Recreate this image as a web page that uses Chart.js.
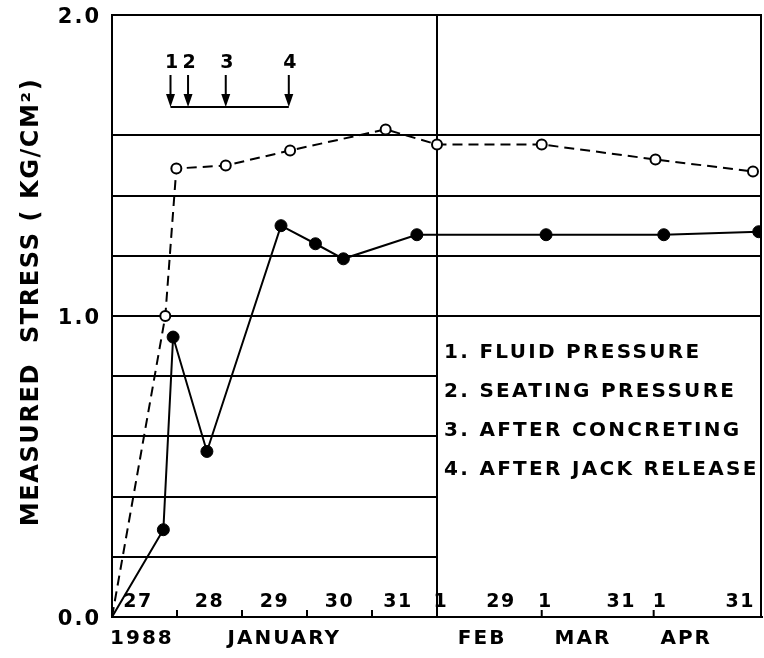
<!DOCTYPE html>
<html>
<head>
<meta charset="utf-8">
<title>Measured stress</title>
<script src="https://cdn.jsdelivr.net/npm/chart.js@4.4.1/dist/chart.umd.min.js"></script>
<style>
  html, body { margin: 0; padding: 0; background: #fff; }
  canvas { display: block; }
</style>
</head>
<body>
<canvas id="stressChart" width="764" height="658"></canvas>
<script>
// Time is counted in days from the start of 27 January 1988
const openDays   = [0, 0.82, 0.99, 1.75, 2.74, 4.21, 5.0, 34, 65.5, 92.5];
const openStress = [0, 1.0, 1.49, 1.50, 1.55, 1.62, 1.57, 1.57, 1.52, 1.48];

const solidDays   = [0, 0.79, 0.94, 1.46, 2.60, 3.13, 3.56, 4.69, 35.2, 67.8, 94.1];
const solidStress = [0, 0.29, 0.93, 0.55, 1.30, 1.24, 1.19, 1.27, 1.27, 1.27, 1.28];

// Construction stages marked by arrows
const eventDays   = [0.90, 1.17, 1.75, 2.72];
const eventLabels = ['1', '2', '3', '4'];
const eventNotes  = ['1. FLUID PRESSURE', '2. SEATING PRESSURE', '3. AFTER CONCRETING', '4. AFTER JACK RELEASE'];

// Day numbers written along the inside of the time axis
const dayLabels    = ['27', '28', '29', '30', '31', '1', '29', '1', '31', '1', '31'];
const dayLabelDays = [0.4, 1.5, 2.5, 3.5, 4.4, 6.1, 22.7, 35, 56, 66.8, 89];
const dayTickDays  = [1, 2, 3, 4, 34, 65];

// Year / month captions under the axis
const monthLabels    = ['1988', 'JANUARY', 'FEB', 'MAR', 'APR'];
const monthLabelDays = [0.46, 2.65, 17.5, 45.4, 74];

// Stress grid levels (kg/cm2) and the ones that get a number
const stressGrid  = [0, 0.2, 0.4, 0.6, 0.8, 1.0, 1.2, 1.4, 1.6, 2.0];
const stressTicks = [0, 1, 2];

const FONT = '"DejaVu Sans", sans-serif';

// January is drawn one unit per day, Feb-Apr squeezed to 18 days per unit
const JAN_DAYS = 5;
const LATER_DAYS_PER_UNIT = 18;
const END_DAY = 95;
function axisPos(day) {
    return day <= JAN_DAYS ? day : JAN_DAYS + (day - JAN_DAYS) / LATER_DAYS_PER_UNIT;
}

const annotations = {
    id: 'annotations',
    beforeDraw(chart) {
        chart.ctx.letterSpacing = '2px';
    },
    beforeDatasetsDraw(chart) {
        const { ctx, chartArea: a, scales: { x, y } } = chart;
        const split = x.getPixelForValue(axisPos(JAN_DAYS));
        const oneY = y.getPixelForValue(1);
        ctx.save();

        // no grid in the lower right panel
        ctx.fillStyle = '#fff';
        ctx.fillRect(split + 1, oneY + 1.5, a.right - split - 2.5, a.bottom - oneY - 2.5);

        // panel divider, right frame and small day ticks
        ctx.strokeStyle = '#000';
        ctx.lineWidth = 2;
        ctx.beginPath();
        ctx.moveTo(split, a.top);
        ctx.lineTo(split, a.bottom);
        ctx.moveTo(a.right - 1, a.top);
        ctx.lineTo(a.right - 1, a.bottom);
        dayTickDays.forEach(d => {
            const px = x.getPixelForValue(axisPos(d));
            ctx.moveTo(px, a.bottom);
            ctx.lineTo(px, a.bottom - 7);
        });
        ctx.stroke();

        ctx.fillStyle = '#000';
        ctx.textAlign = 'center';
        ctx.textBaseline = 'middle';
        ctx.letterSpacing = '1.5px';
        ctx.font = `bold 19px ${FONT}`;
        dayLabels.forEach((t, i) => {
            ctx.fillText(t, x.getPixelForValue(axisPos(dayLabelDays[i])), a.bottom - 15);
        });

        // stage arrows hanging from a common bar
        const labelY = a.top + 48;
        const topY = a.top + 60;
        const barY = a.top + 92;
        ctx.letterSpacing = '0px';
        ctx.font = `bold 19px ${FONT}`;
        const xs = eventDays.map(d => x.getPixelForValue(axisPos(d)));
        ctx.beginPath();
        ctx.moveTo(xs[0], barY);
        ctx.lineTo(xs[xs.length - 1], barY);
        xs.forEach(px => {
            ctx.moveTo(px, topY);
            ctx.lineTo(px, barY - 8);
        });
        ctx.stroke();
        xs.forEach((px, i) => {
            ctx.fillText(eventLabels[i], px + 1, labelY);
            ctx.beginPath();
            ctx.moveTo(px - 4.5, barY - 13);
            ctx.lineTo(px + 4.5, barY - 13);
            ctx.lineTo(px, barY);
            ctx.closePath();
            ctx.fill();
        });

        // stage notes
        ctx.textAlign = 'left';
        ctx.font = `bold 20px ${FONT}`;
        ctx.letterSpacing = '2.3px';
        eventNotes.forEach((t, i) => {
            ctx.fillText(t, split + 7, oneY + 37 + i * 39);
        });

        ctx.restore();
    },
    afterDraw(chart) {
        const { ctx } = chart;
        ctx.save();
        ctx.fillStyle = '#000';
        ctx.font = `bold 24px ${FONT}`;
        ctx.letterSpacing = '1.6px';
        ctx.textAlign = 'center';
        ctx.textBaseline = 'middle';
        ctx.translate(32, 302);
        ctx.rotate(-Math.PI / 2);
        ctx.fillText('MEASURED  STRESS ( KG/CM\u00B2)', 0, 0);
        ctx.restore();
        ctx.letterSpacing = '0px';
    }
};

const stressChart = new Chart(document.getElementById('stressChart'), {
    type: 'line',
    data: {
        datasets: [
            {
                label: 'open',
                data: openDays.map((d, i) => ({ x: axisPos(d), y: openStress[i] })),
                borderColor: '#000',
                borderWidth: 2,
                borderDash: [10, 6],
                pointRadius: ctx => ctx.dataIndex === 0 ? 0 : 5,
                pointBackgroundColor: '#fff',
                pointBorderColor: '#000',
                pointBorderWidth: 2,
                tension: 0
            },
            {
                label: 'solid',
                data: solidDays.map((d, i) => ({ x: axisPos(d), y: solidStress[i] })),
                borderColor: '#000',
                borderWidth: 2,
                pointRadius: ctx => ctx.dataIndex === 0 ? 0 : 6,
                pointBackgroundColor: '#000',
                pointBorderColor: '#000',
                pointBorderWidth: 1,
                tension: 0
            }
        ]
    },
    options: {
        responsive: false,
        animation: false,
        devicePixelRatio: 1,
        layout: { autoPadding: false, padding: { top: 15, right: 2, left: 0, bottom: 0 } },
        plugins: {
            legend: { display: false },
            tooltip: { enabled: false }
        },
        scales: {
            x: {
                type: 'linear',
                min: 0,
                max: axisPos(END_DAY),
                afterBuildTicks: scale => {
                    scale.ticks = monthLabelDays.map(d => ({ value: axisPos(d) }));
                },
                afterFit: scale => {
                    scale.height = 41;
                    scale.paddingLeft = 0;
                    scale.paddingRight = 0;
                },
                ticks: {
                    autoSkip: false,
                    maxRotation: 0,
                    padding: 10,
                    color: '#000',
                    font: { family: FONT, size: 20, weight: 'bold' },
                    callback: (v, i) => monthLabels[i]
                },
                grid: { display: false, drawTicks: false },
                border: { display: true, color: '#000', width: 2 }
            },
            y: {
                min: 0,
                max: 2,
                afterBuildTicks: scale => {
                    scale.ticks = stressGrid.map(v => ({ value: v }));
                },
                afterFit: scale => {
                    scale.width = 112;
                    scale.paddingTop = 0;
                    scale.paddingBottom = 0;
                },
                ticks: {
                    padding: 11,
                    labelOffset: 3,
                    color: '#000',
                    font: { family: FONT, size: 21, weight: 'bold' },
                    callback: v => stressTicks.some(t => Math.abs(t - v) < 1e-6) ? v.toFixed(1) : ''
                },
                grid: { color: '#000', lineWidth: 2, drawTicks: false },
                border: { display: true, color: '#000', width: 2 }
            }
        }
    },
    plugins: [annotations]
});
</script>
</body>
</html>
